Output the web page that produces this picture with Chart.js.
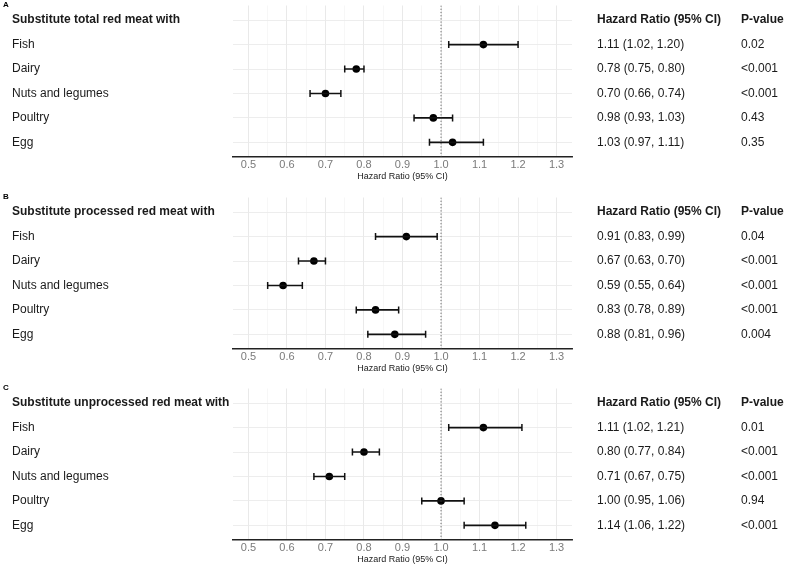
<!DOCTYPE html>
<html>
<head>
<meta charset="utf-8">
<script src="https://cdn.jsdelivr.net/npm/chart.js@4.4.1/dist/chart.umd.min.js"></script>
<style>
  body { margin: 0; background: #fff; }
  #wrap { position: relative; width: 789px; height: 565px; overflow: hidden; }
  #wrap canvas { position: absolute; left: 0; }
</style>
</head>
<body>
<div id="wrap">
  <canvas id="panelA" width="789" height="183" style="top:0px"></canvas>
  <canvas id="panelB" width="789" height="183" style="top:192px"></canvas>
  <canvas id="panelC" width="789" height="183" style="top:383px"></canvas>
</div>
<script>
// Data
const categories = ['Fish', 'Dairy', 'Nuts and legumes', 'Poultry', 'Egg'];
const panelLetters = ['A', 'B', 'C'];
const panelTitles = [
  'Substitute total red meat with',
  'Substitute processed red meat with',
  'Substitute unprocessed red meat with'
];
const columnHeaders = ['Hazard Ratio (95% CI)', 'P-value'];
const axisTitle = 'Hazard Ratio (95% CI)';
const xTicks = [0.5, 0.6, 0.7, 0.8, 0.9, 1.0, 1.1, 1.2, 1.3];
const xMin = 0.46, xMax = 1.34;
const refValue = 1.0;

// total red meat
const hrTotal = [1.11, 0.78, 0.70, 0.98, 1.03];
const loTotal = [1.02, 0.75, 0.66, 0.93, 0.97];
const hiTotal = [1.20, 0.80, 0.74, 1.03, 1.11];
const pTotal = ['0.02', '<0.001', '<0.001', '0.43', '0.35'];

// processed red meat
const hrProcessed = [0.91, 0.67, 0.59, 0.83, 0.88];
const loProcessed = [0.83, 0.63, 0.55, 0.78, 0.81];
const hiProcessed = [0.99, 0.70, 0.64, 0.89, 0.96];
const pProcessed = ['0.04', '<0.001', '<0.001', '<0.001', '0.004'];

// unprocessed red meat
const hrUnprocessed = [1.11, 0.80, 0.71, 1.00, 1.14];
const loUnprocessed = [1.02, 0.77, 0.67, 0.95, 1.06];
const hiUnprocessed = [1.21, 0.84, 0.75, 1.06, 1.22];
const pUnprocessed = ['0.01', '<0.001', '<0.001', '0.94', '<0.001'];

const FONT = '"Liberation Sans", Arial, Helvetica, sans-serif';
Chart.defaults.font.family = FONT;

// draws panel letter, row labels and the two right-hand columns
const tablePlugin = {
  id: 'tableText',
  afterDraw(chart, args, opts) {
    const ctx = chart.ctx;
    const y = chart.scales.y;
    ctx.save();
    ctx.textBaseline = 'middle';
    ctx.textAlign = 'left';
    ctx.fillStyle = '#000';
    ctx.font = 'bold 8px ' + FONT;
    ctx.fillText(opts.letter, 3, 5);
    ctx.fillStyle = '#1a1a1a';
    opts.rows.forEach((row, i) => {
      const py = y.getPixelForValue(i);
      ctx.font = (i === 0 ? 'bold ' : '') + '12px ' + FONT;
      ctx.fillText(row[0], 12, py);
      ctx.fillText(row[1], 597, py);
      ctx.fillText(row[2], 741, py);
    });
    ctx.restore();
  }
};

function isMajor(v) {
  return Math.abs(v * 10 - Math.round(v * 10)) < 1e-6;
}

function makePanel(id, idx, hr, lo, hi, p) {
  const rows = [[panelTitles[idx], columnHeaders[0], columnHeaders[1]]];
  categories.forEach((c, i) => {
    rows.push([c, `${hr[i].toFixed(2)} (${lo[i].toFixed(2)}, ${hi[i].toFixed(2)})`, p[i]]);
  });

  const datasets = [];
  // dotted reference line at HR = 1
  datasets.push({
    data: [{x: refValue, y: -0.6}, {x: refValue, y: categories.length + 0.6}],
    showLine: true,
    borderColor: '#444',
    borderWidth: 0.8,
    borderDash: [1.2, 2],
    pointRadius: 0
  });
  // confidence intervals with caps
  categories.forEach((c, i) => {
    datasets.push({
      data: [{x: lo[i], y: i + 1}, {x: hi[i], y: i + 1}],
      showLine: true,
      borderColor: '#111',
      borderWidth: 1.6,
      pointStyle: 'line',
      rotation: 90,
      pointRadius: 3.5,
      pointBorderColor: '#111',
      pointBorderWidth: 1.5
    });
  });
  // point estimates
  datasets.push({
    data: hr.map((v, i) => ({x: v, y: i + 1})),
    pointRadius: 3.8,
    pointBackgroundColor: '#000',
    pointBorderColor: '#000',
    pointBorderWidth: 0
  });

  new Chart(document.getElementById(id), {
    type: 'scatter',
    data: {datasets},
    options: {
      responsive: false,
      animation: false,
      layout: {padding: {left: 233, right: 217, top: 5, bottom: 0}},
      plugins: {
        legend: {display: false},
        tooltip: {enabled: false},
        tableText: {letter: panelLetters[idx], rows}
      },
      scales: {
        x: {
          type: 'linear',
          min: xMin,
          max: xMax,
          afterBuildTicks(axis) {
            const t = [];
            xTicks.forEach((v, i) => {
              t.push({value: v});
              if (i < xTicks.length - 1) t.push({value: (v + xTicks[i + 1]) / 2});
            });
            axis.ticks = t;
          },
          afterFit(scale) { scale.height = 26; },
          ticks: {
            autoSkip: false,
            maxRotation: 0,
            padding: 1,
            color: '#7a7a7a',
            font: {size: 11},
            callback: v => isMajor(v) ? v.toFixed(1) : ''
          },
          grid: {
            drawTicks: false,
            color: ctx => isMajor(ctx.tick.value) ? '#e6e6e6' : '#f1f1f1',
            lineWidth: ctx => isMajor(ctx.tick.value) ? 0.9 : 0.6
          },
          border: {display: true, color: '#222', width: 1.6},
          title: {
            display: true,
            text: axisTitle,
            color: '#1a1a1a',
            font: {size: 9},
            padding: {top: 0, bottom: 1}
          }
        },
        y: {
          type: 'linear',
          reverse: true,
          min: -0.6,
          max: categories.length + 0.6,
          afterBuildTicks(axis) {
            axis.ticks = rows.map((r, i) => ({value: i}));
          },
          afterFit(scale) { scale.width = 0; },
          ticks: {display: false},
          grid: {drawTicks: false, color: '#ebebeb', lineWidth: 0.9},
          border: {display: false}
        }
      }
    },
    plugins: [tablePlugin]
  });
}

makePanel('panelA', 0, hrTotal, loTotal, hiTotal, pTotal);
makePanel('panelB', 1, hrProcessed, loProcessed, hiProcessed, pProcessed);
makePanel('panelC', 2, hrUnprocessed, loUnprocessed, hiUnprocessed, pUnprocessed);
</script>
</body>
</html>
